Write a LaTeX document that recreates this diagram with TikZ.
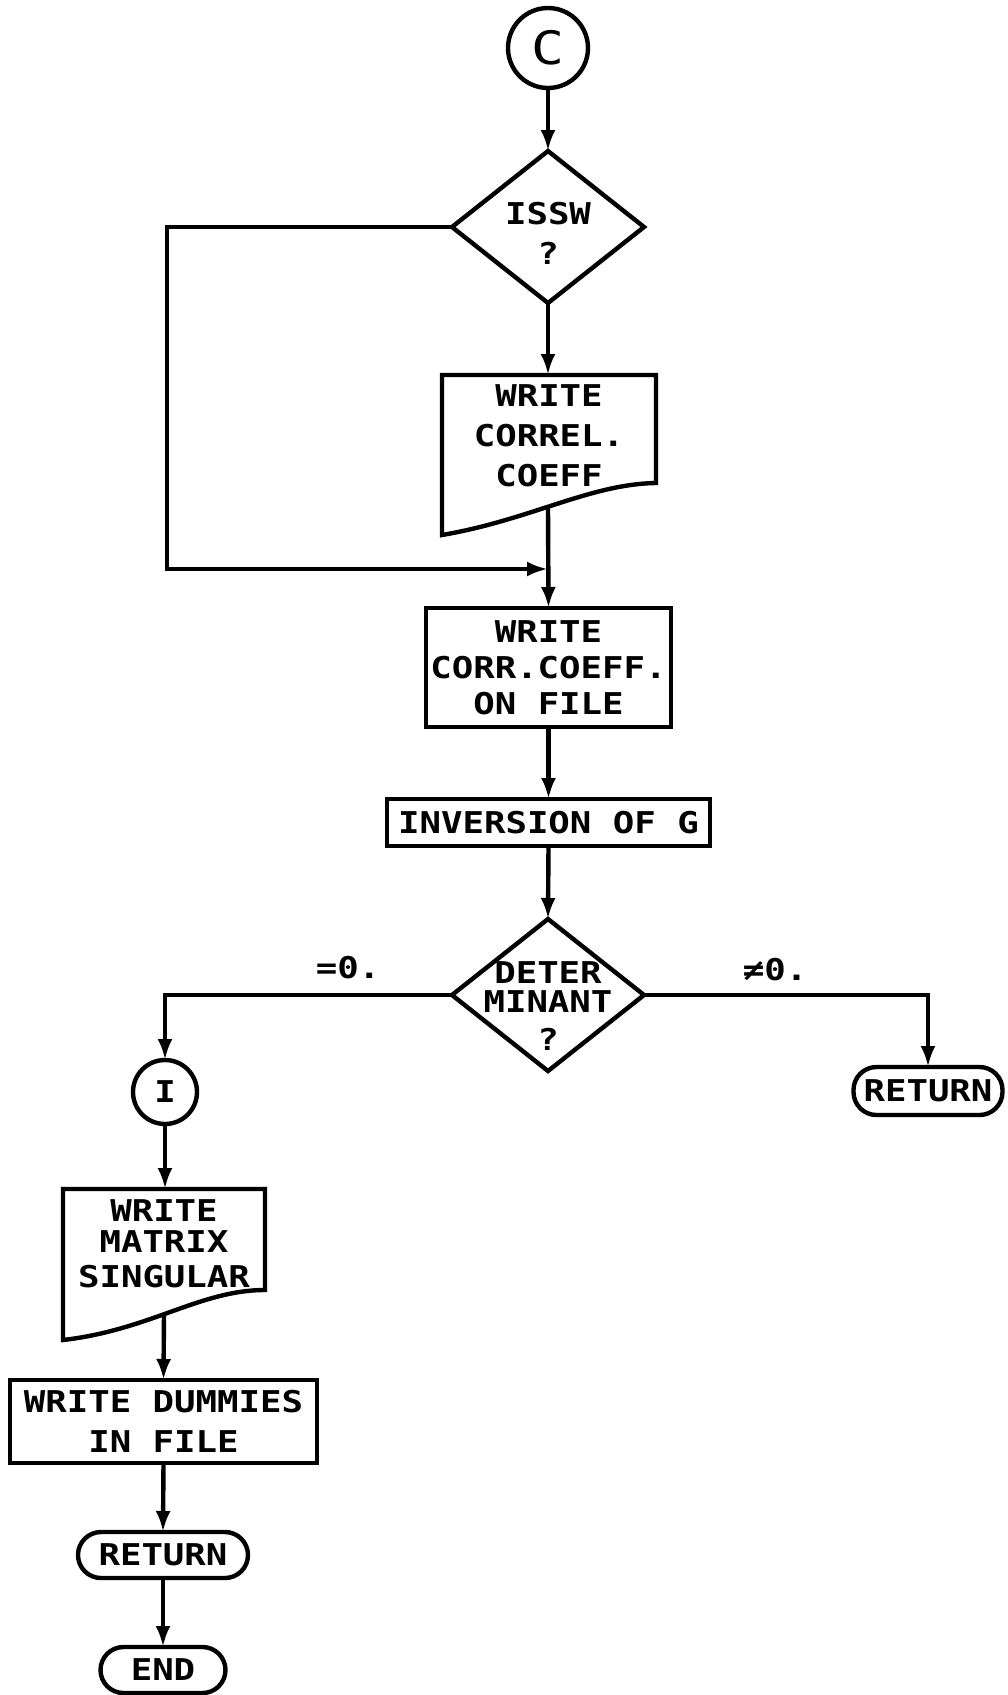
\documentclass[tikz,border=0pt]{standalone}
\usepackage{fontspec}
\newfontfamily\plotfont[FakeStretch=1.19]{DejaVu Sans Mono}
\usetikzlibrary{shapes.geometric,arrows.meta}
\begin{document}
\begin{tikzpicture}[x=1pt,y=-1pt, line width=4.4pt,
  every node/.style={inner sep=0pt, outer sep=0pt},
  txt/.style={font=\plotfont\bfseries\fontsize{30}{36}\selectfont, align=center},
  box/.style={draw, rectangle, txt},
  term/.style={draw, rectangle, rounded corners=23pt, txt},
  conn/.style={draw, circle, txt},
  dec/.style={draw, diamond, minimum width=192pt, minimum height=152pt},
  arr/.style={-{Latex[length=21pt,width=15pt]}}]
\useasboundingbox (0,0) rectangle (1008,1695);

% nodes
\node[conn, minimum size=80pt, font=\plotfont\fontsize{46}{46}\selectfont] (c) at (548,48) {C};
\node[dec] (issw) at (548,227) {};
\node[txt] (isswt) at (548,233) {ISSW\\[4pt]?};

\node[txt] (dw1) at (549,436) {WRITE\\[4pt]CORREL.\\[4pt]COEFF};
\draw (442,375) -- (656,375) -- (656,483) .. controls (590,484) and (530,520) .. (442,535) -- cycle;
\coordinate (dw1top) at (548,375);
\coordinate (dw1out) at (548,507);
\coordinate (j) at (548,569);
\coordinate (fb) at (167,569);

\node[box, minimum width=245pt, minimum height=119pt] (b2) at (548.5,667.5) {WRITE\\CORR.COEFF.\\ON FILE};
\node[box, minimum width=323pt, minimum height=47pt] (inv) at (548.5,822.5) {INVERSION OF G};

\node[dec] (det) at (548,995) {};
\node[txt] (dett) at (548,1006) {DETER\\[-7pt]MINANT\\[2pt]?};
\node[txt] (eq) at (348,968) {=0.};
\node[txt] (neq) at (775,970) {≠0.};

\node[term, minimum width=149pt, minimum height=48pt] (ret1) at (928,1091) {RETURN};
\node[conn, minimum size=64pt] (i) at (165,1092) {I};

\node[txt] (dw2) at (164,1244) {WRITE\\[-5pt]MATRIX\\[-1pt]SINGULAR};
\draw (63,1189) -- (265,1189) -- (265,1290) .. controls (200,1290) and (150,1330) .. (63,1340) -- cycle;
\coordinate (dw2top) at (165,1189);
\coordinate (dw2out) at (164,1313);

\node[box, minimum width=307pt, minimum height=83pt] (dum) at (163.5,1421.5) {WRITE DUMMIES\\[4pt]IN FILE};
\node[term, minimum width=170pt, minimum height=46pt] (ret2) at (163,1555) {RETURN};
\node[term, minimum width=125pt, minimum height=46pt] (end) at (163,1670) {END};

% connectors
\draw[arr] (c.south) -- (issw.north);
\draw[arr] (issw.south) -- (dw1top);
\draw[arr] (issw.west) -| (fb) -- (j);
\draw[arr] (dw1out) -- (b2.north);
\draw[arr] (b2.south) -- (inv.north);
\draw[arr] (inv.south) -- (det.north);
\draw[arr] (det.west) -| (i.north);
\draw[arr] (det.east) -| (ret1.north);
\draw[arr] (i.south) -- (dw2top);
\draw[arr] (dw2out) -- (dum.north);
\draw[arr] (dum.south) -- (ret2.north);
\draw[arr] (ret2.south) -- (end.north);
\end{tikzpicture}
\end{document}
